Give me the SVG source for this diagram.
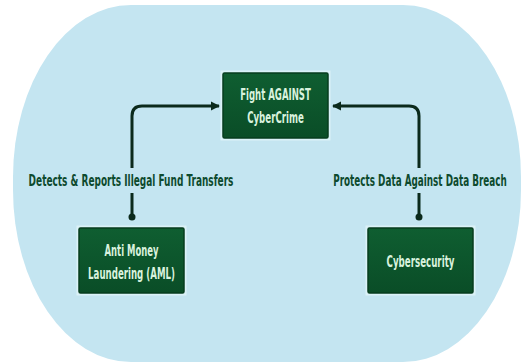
<svg xmlns="http://www.w3.org/2000/svg" width="523" height="364" viewBox="0 0 523 364">
<defs>
<style>
.node rect.box{fill:url(#g);stroke:#073d1e;stroke-width:1.5}
.node rect.halo{fill:none;stroke:#e6f8fb;stroke-width:5;opacity:0.7}
.nt{font-family:"DejaVu Sans Condensed","Liberation Sans",sans-serif;font-weight:bold;font-size:15px;fill:#d9f2de;text-anchor:middle}
.lbl{font-family:"DejaVu Sans Condensed","Liberation Sans",sans-serif;font-weight:bold;font-size:12.5px;fill:#0d4a2e;text-anchor:middle}
.wire{fill:none;stroke:#0b2a1c;stroke-width:3;stroke-linecap:butt}
</style>
<linearGradient id="g" x1="0" y1="0" x2="0" y2="1">
<stop offset="0" stop-color="#0f5e31"/>
<stop offset="1" stop-color="#0a4d27"/>
</linearGradient>
<marker id="ah" viewBox="0 0 10 10" refX="9" refY="5" markerWidth="3" markerHeight="3.4" orient="auto" markerUnits="strokeWidth">
<path d="M0,0 L10,5 L0,10 Z" fill="#0b2a1c"/>
</marker>
</defs>
<rect x="0" y="0" width="523" height="364" fill="#ffffff"/>
<rect x="13" y="5" width="508" height="357" rx="118" ry="172" fill="#c4e5f1"/>

<g id="connectors">
<path class="wire" d="M132,168 L132,116 Q132,106 142,106 L219,106" marker-end="url(#ah)"/>
<path class="wire" d="M132,193 L132,216"/>
<circle cx="132" cy="217" r="3.5" fill="#0b2a1c"/>
<path class="wire" d="M419,168 L419,116 Q419,106 409,106 L333,106" marker-end="url(#ah)"/>
<path class="wire" d="M419,193 L419,216"/>
<circle cx="419" cy="217" r="3.5" fill="#0b2a1c"/>
<text class="lbl" transform="translate(131,186) scale(0.8,1.25)" textLength="256" lengthAdjust="spacingAndGlyphs">Detects &amp; Reports Illegal Fund Transfers</text>
<text class="lbl" transform="translate(420,186) scale(0.8,1.25)" textLength="217" lengthAdjust="spacingAndGlyphs">Protects Data Against Data Breach</text>
</g>

<g id="fight" class="node">
<rect class="halo" x="223" y="73" width="105" height="65"/>
<rect class="box" x="223" y="73" width="105" height="65" rx="1.5"/>
<text class="nt" transform="translate(275.5,100) scale(0.7,1)" textLength="101" lengthAdjust="spacingAndGlyphs">Fight AGAINST</text>
<text class="nt" transform="translate(275.5,123) scale(0.7,1)" textLength="81" lengthAdjust="spacingAndGlyphs">CyberCrime</text>
</g>

<g id="aml" class="node">
<rect class="halo" x="79" y="228" width="105" height="65"/>
<rect class="box" x="79" y="228" width="105" height="65" rx="1.5"/>
<text class="nt" transform="translate(131.5,256) scale(0.7,1)" textLength="77" lengthAdjust="spacingAndGlyphs">Anti Money</text>
<text class="nt" transform="translate(131.5,279) scale(0.7,1)" textLength="124" lengthAdjust="spacingAndGlyphs">Laundering (AML)</text>
</g>

<g id="cyber" class="node">
<rect class="halo" x="368" y="228" width="105" height="65"/>
<rect class="box" x="368" y="228" width="105" height="65" rx="1.5"/>
<text class="nt" transform="translate(420.5,267) scale(0.7,1)" textLength="97" lengthAdjust="spacingAndGlyphs">Cybersecurity</text>
</g>
</svg>
